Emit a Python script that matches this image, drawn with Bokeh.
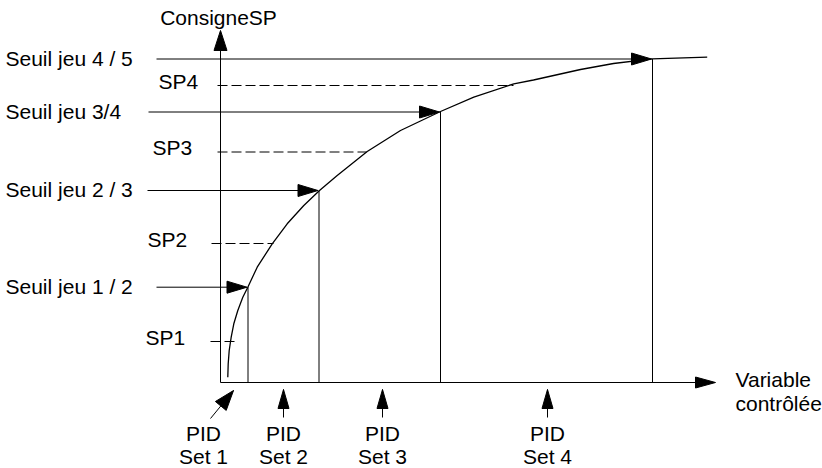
import math
from bokeh.plotting import figure
from bokeh.models import Range1d
from bokeh.core.properties import value
from bokeh.embed import file_html
from bokeh.resources import INLINE

# ---- data (diagram units: variable contrôlée / consigne SP) ----
curve_x = [7.3, 7.7, 8.7, 10.7, 13.3, 17.3, 22.3, 27.3, 36.7, 51.7, 66.7, 83.3, 99, 116.7,
           146.7, 180, 220, 253.3, 293.3, 313, 360, 393, 431.7, 486.7]
curve_y = [5.3, 18.7, 32, 45.3, 58.7, 72, 85.3, 95.3, 115.3, 138.7, 158.7, 177, 192, 207,
           231, 252, 271, 285.3, 298.7, 302.5, 313, 319, 323.7, 325.3]

seuil_labels = ["Seuil jeu 1 / 2", "Seuil jeu 2 / 3", "Seuil jeu 3/4", "Seuil jeu 4 / 5"]
seuil_x = [27.5, 98.5, 220, 432]
seuil_y = [95.3, 192, 270.5, 323.5]

sp_labels = ["SP1", "SP2", "SP3", "SP4"]
sp_y = [41, 139, 230.5, 297]
sp_x = [15, 53, 146, 293]

pid_labels = ["Set 1", "Set 2", "Set 3", "Set 4"]
pid_x = [13, 63, 162, 327]

FONT = value("Liberation Sans")
FS = "21px"
DY = 7.5  # text baseline correction

p = figure(width=822, height=468, x_range=Range1d(-220, 602), y_range=Range1d(-86, 382),
           x_axis_type=None, y_axis_type=None, toolbar_location=None,
           output_backend="svg", min_border=0)
p.outline_line_color = None
p.grid.visible = False


def head(tx, ty, ox, oy, L, w):
    dx, dy = tx - ox, ty - oy
    n = math.hypot(dx, dy)
    ux, uy = dx / n, dy / n
    bx, by = tx - L * ux, ty - L * uy
    px, py = -uy, ux
    return [tx, bx + w * px, bx - w * px], [ty, by + w * py, by - w * py]


hx, hy = [], []

# axes
x_end = 495
y_end = 352
p.segment(x0=[0, 0], y0=[0, 0], x1=[x_end - 15, 0], y1=[0, y_end - 15], line_color="black", line_width=1)
a, b = head(x_end, 0, 0, 0, 20, 5.5); hx.append(a); hy.append(b)
a, b = head(0, y_end, 0, 0, 20, 6.5); hx.append(a); hy.append(b)

# curve
p.line(curve_x, curve_y, line_color="black", line_width=1.3, line_join="round")

# thresholds: horizontal arrows + vertical drops
seuil_start = [-64, -73, -72, -64]
p.segment(x0=seuil_start, y0=seuil_y, x1=[x - 15 for x in seuil_x], y1=seuil_y,
          line_color="black", line_width=1)
for x, y, s in zip(seuil_x, seuil_y, seuil_start):
    a, b = head(x - 1, y, s, y, 20, 6)
    hx.append(a); hy.append(b)
p.segment(x0=seuil_x, y0=[0] * 4, x1=seuil_x, y1=seuil_y, line_color="black", line_width=1)
p.text(x=[-215] * 4, y=[y - 6.5 + DY for y in seuil_y], text=seuil_labels, text_font=FONT,
       text_font_size=FS, text_baseline="alphabetic", text_align="left", text_color="black")

# setpoints: dashed lines
sp_start = [-10, -9, -3, -3]
p.segment(x0=sp_start, y0=sp_y, x1=sp_x, y1=sp_y, line_color="black", line_width=1,
          line_dash="10 4")
p.text(x=[-75, -73, -68, -62], y=[y - 3 + DY for y in sp_y], text=sp_labels, text_font=FONT,
       text_font_size=FS, text_baseline="alphabetic", text_align="left", text_color="black")

# PID arrows
pid_from = [(-10, -36), (63, -35), (162, -35), (327, -35)]
pid_tip = [(13, -8), (63, -7), (162, -7), (327, -7)]
p.segment(x0=[f[0] for f in pid_from], y0=[f[1] for f in pid_from],
          x1=[t[0] for t in pid_tip], y1=[t[1] for t in pid_tip], line_color="black", line_width=1)
for i, (f, t) in enumerate(zip(pid_from, pid_tip)):
    a, b = head(t[0], t[1], f[0], f[1], 20 if i == 0 else 19, 7 if i == 0 else 5.5)
    hx.append(a); hy.append(b)
label_cx = [-17] + pid_x[1:]
p.text(x=label_cx, y=[-58 + DY] * 4, text=["PID"] * 4, text_font=FONT, text_font_size=FS,
       text_baseline="alphabetic", text_align="center", text_color="black")
p.text(x=label_cx, y=[-81.3 + DY] * 4, text=pid_labels, text_font=FONT, text_font_size=FS,
       text_baseline="alphabetic", text_align="center", text_color="black")

p.patches(hx, hy, fill_color="black", line_color="black", line_width=1)

# axis titles
p.text(x=[-2], y=[358 + DY], text=["ConsigneSP"], text_font=FONT, text_font_size=FS,
       text_baseline="alphabetic", text_align="center", text_color="black")
p.text(x=[515, 515], y=[-4.7 + DY, -28 + DY], text=["Variable", "contrôlée"], text_font=FONT,
       text_font_size=FS, text_baseline="alphabetic", text_align="left", text_color="black")

open("out.html", "w").write(file_html(p, INLINE))
